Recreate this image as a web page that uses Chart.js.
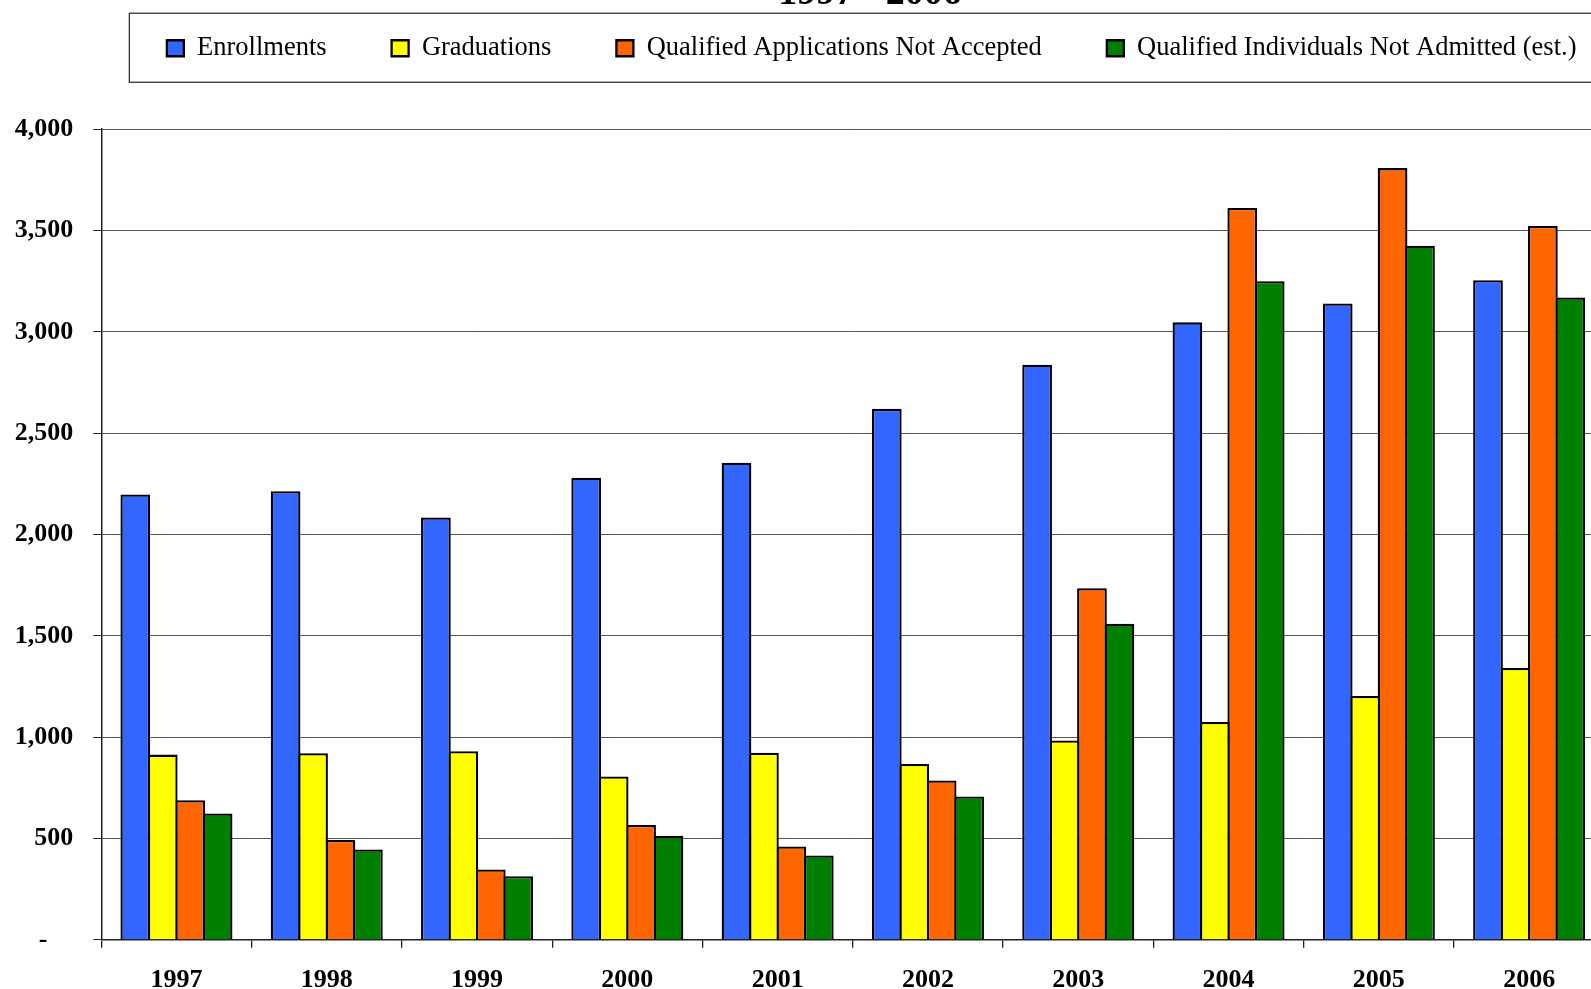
<!DOCTYPE html>
<html>
<head>
<meta charset="utf-8">
<script src="https://cdn.jsdelivr.net/npm/chart.js@4/dist/chart.umd.min.js"></script>
<style>
  html, body { margin: 0; padding: 0; background: #ffffff; overflow: hidden; width: 1591px; height: 989px; position: relative; }
  #c { position: absolute; left: 0; top: -30.5px; }
  #title { position: absolute; left: 0; width: 1740px; top: -28.5px; text-align: center;
           font: bold 38px/38px "Liberation Serif", "Times New Roman", serif; color: #000; white-space: nowrap; }
</style>
</head>
<body>
<canvas id="c" width="1745" height="1034"></canvas>
<div id="title">1997 - 2006</div>
<script>
// ---- data ----
const years = ['1997', '1998', '1999', '2000', '2001', '2002', '2003', '2004', '2005', '2006'];
const seriesNames = ['Enrollments', 'Graduations', 'Qualified Applications Not Accepted', 'Qualified Individuals Not Admitted (est.)'];
const enrollments = [2198, 2214, 2084, 2280, 2354, 2620, 2838, 3047, 3140, 3255];
const graduations = [914, 921, 931, 806, 923, 868, 984, 1075, 1203, 1341];
const qualifiedApplicationsNotAccepted = [689, 493, 347, 567, 461, 786, 1735, 3611, 3808, 3522];
const qualifiedIndividualsNotAdmitted = [623, 446, 314, 513, 416, 707, 1560, 3250, 3425, 3170];
const yTickValues = [0, 500, 1000, 1500, 2000, 2500, 3000, 3500, 4000];

const seriesColors = ['#3366FF', '#FFFF00', '#FF6600', '#008000'];
const seriesData = [enrollments, graduations, qualifiedApplicationsNotAccepted, qualifiedIndividualsNotAdmitted];

const FONT = "'Liberation Serif', 'Times New Roman', serif";
Chart.defaults.font.family = FONT;
Chart.defaults.color = '#000';

// legend is centred on the whole (wider, cropped) chart object in the original
const legendFrame = {
  id: 'legendFrame',
  afterLayout(chart) {
    const lg = chart.legend;
    if (!lg) return;
    const dx = 69.5;
    lg.left += dx;
    lg.right += dx;
  },
  afterDraw(chart) {
    const hb = chart.legend && chart.legend.legendHitBoxes;
    if (!hb || !hb.length) return;
    const first = hb[0], last = hb[hb.length - 1];
    const cy = first.top + first.height / 2;
    const x0 = first.left - 37.5;
    const x1 = last.left + last.width + 78;
    const ctx = chart.ctx;
    ctx.save();
    ctx.strokeStyle = '#333';
    ctx.lineWidth = 1.3;
    ctx.strokeRect(x0, cy - 35, x1 - x0, 69);
    ctx.restore();
  }
};

new Chart(document.getElementById('c'), {
  type: 'bar',
  data: {
    labels: years,
    datasets: seriesData.map((d, i) => ({
      label: seriesNames[i],
      data: d,
      backgroundColor: seriesColors[i],
      borderColor: '#000',
      borderWidth: 2.3,
      categoryPercentage: 0.73,
      barPercentage: 1.084
    }))
  },
  options: {
    responsive: false,
    animation: false,
    devicePixelRatio: 1,
    layout: { padding: { left: 0, right: 140.7, top: 0, bottom: 0 } },
    plugins: {
      title: { display: false },
      subtitle: {
        display: true, text: '', weight: 500,
        font: { size: 10, lineHeight: 1 },
        padding: { top: 0, bottom: 47.7 }
      },
      legend: {
        display: true,
        position: 'top',
        align: 'center',
        labels: {
          font: { size: 26.5, family: FONT },
          color: '#000',
          boxWidth: 17,
          boxHeight: 16,
          padding: 65
        }
      },
      tooltip: { enabled: false }
    },
    scales: {
      x: {
        offset: true,
        grid: { display: true, offset: true, drawOnChartArea: false, drawTicks: true, tickLength: 8, color: '#222', lineWidth: 1.3 },
        border: { display: true, color: '#222', width: 1.5 },
        ticks: { font: { size: 26, weight: 'bold', family: FONT }, color: '#000', padding: 16.5, maxRotation: 0, autoSkip: false },
        afterFit: (s) => { s.height = 1034 - 969.8; }
      },
      y: {
        min: 0,
        max: 4000,
        afterBuildTicks: (s) => { s.ticks = yTickValues.map(v => ({ value: v })); },
        grid: { display: true, drawOnChartArea: true, drawTicks: true, tickLength: 8, color: '#555', tickColor: '#222', lineWidth: 1 },
        border: { display: true, color: '#222', width: 1.5 },
        ticks: {
          font: { size: 26, weight: 'bold', family: FONT },
          color: '#000',
          padding: 20,
          callback: (v) => v === 0 ? '-\u00a0\u00a0\u00a0\u00a0' : Number(v).toLocaleString('en-US')
        },
        afterFit: (s) => { s.width = 101.3; }
      }
    }
  },
  plugins: [legendFrame]
});
</script>
</body>
</html>
